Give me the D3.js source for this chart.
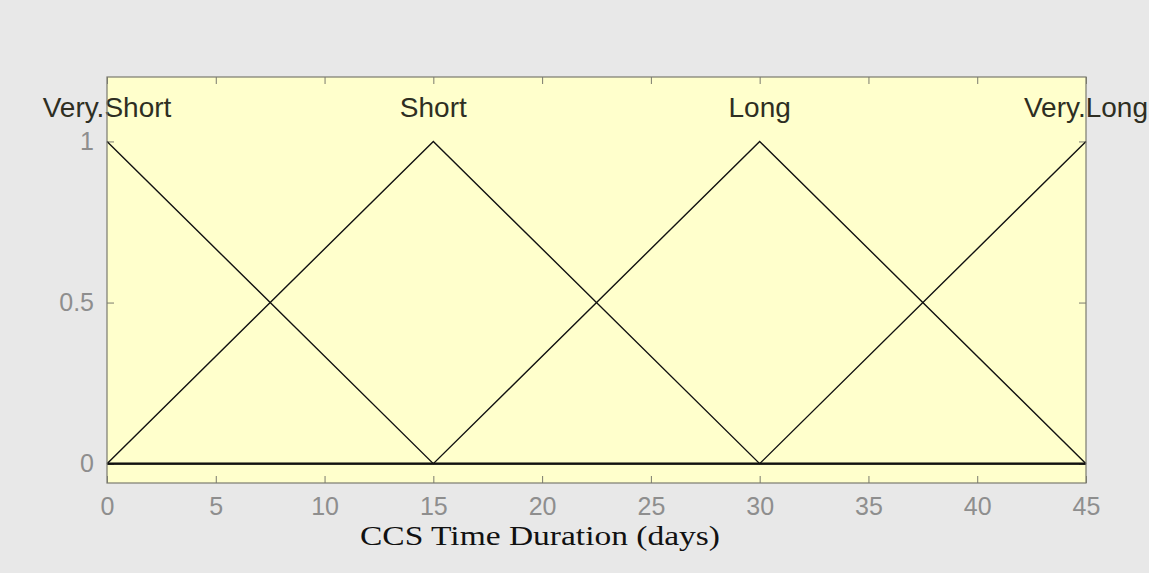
<!DOCTYPE html>
<html>
<head>
<meta charset="utf-8">
<script src="https://cdn.jsdelivr.net/npm/d3@7"></script>
<style>
  body { margin: 0; background: #e8e8e8; }
  svg { display: block; }
</style>
</head>
<body>
<svg width="1149" height="573"></svg>
<script>
// membership functions of "CCS Time Duration"
var mfNames = ["Very.Short", "Short", "Long", "Very.Long"];
var mfPeaks = [0, 15, 30, 45];
var mfX = [[0, 15, 45], [0, 15, 30, 45], [0, 15, 30, 45], [0, 30, 45]];
var mfY = [[1, 0, 0], [0, 1, 0, 0], [0, 0, 1, 0], [0, 0, 1]];
var xTicks = [0, 5, 10, 15, 20, 25, 30, 35, 40, 45];
var yTicks = [0, 0.5, 1];
var xLabel = "CCS Time Duration (days)";

var svg = d3.select("svg"),
  margin = {top: 77, right: 63, bottom: 90, left: 107},
  width = +svg.attr("width") - margin.left - margin.right,
  height = +svg.attr("height") - margin.top - margin.bottom,
  g = svg.append("g").attr("transform", "translate(" + margin.left + "," + margin.top + ")");

var x = d3.scaleLinear().domain([0, 45]).range([0, width]);
var y = d3.scaleLinear().domain([-0.06, 1.2]).range([height, 0]);

svg.insert("rect", ":first-child")
  .attr("width", 1149).attr("height", 573).attr("fill", "#e8e8e8");

g.append("rect")
  .attr("width", width).attr("height", height)
  .attr("fill", "#ffffcc");

var axisColor = "#7a7a6e", tickColor = "#8e8e8e";

function styleAxis(sel) {
  sel.select(".domain").remove();
  sel.selectAll(".tick line").attr("stroke", axisColor);
  sel.selectAll(".tick text")
    .attr("fill", tickColor)
    .style("font-family", "Arial, 'Liberation Sans', sans-serif")
    .style("font-size", "25px");
}

g.append("g")
  .attr("transform", "translate(0," + height + ")")
  .call(d3.axisBottom(x).tickValues(xTicks).tickSize(-7).tickPadding(14).tickFormat(d3.format("d")))
  .call(styleAxis);
g.append("g")
  .call(d3.axisTop(x).tickValues(xTicks).tickSize(-7).tickFormat(""))
  .call(styleAxis);
g.append("g")
  .call(d3.axisLeft(y).tickValues(yTicks).tickSize(-7).tickPadding(13).tickFormat(d3.format("")))
  .call(styleAxis);
g.append("g")
  .attr("transform", "translate(" + width + ",0)")
  .call(d3.axisRight(y).tickValues(yTicks).tickSize(-7).tickFormat(""))
  .call(styleAxis);

var line = d3.line()
  .x(function(d) { return x(d[0]); })
  .y(function(d) { return y(d[1]); });

// zero baseline is drawn heavier
g.append("path")
  .datum([[0, 0], [45, 0]])
  .attr("d", line)
  .attr("fill", "none")
  .attr("stroke", "#000")
  .attr("stroke-width", 2.4);

mfNames.forEach(function(name, i) {
  var pts = mfX[i].map(function(v, j) { return [v, mfY[i][j]]; });
  g.append("path")
    .datum(pts)
    .attr("d", line)
    .attr("fill", "none")
    .attr("stroke", "#111")
    .attr("stroke-width", 1.4);
  g.append("text")
    .attr("x", x(mfPeaks[i]))
    .attr("y", 117 - margin.top)
    .attr("text-anchor", "middle")
    .attr("fill", "#2e2e22")
    .style("font-family", "Arial, 'Liberation Sans', sans-serif")
    .style("font-size", "28px")
    .text(name);
});

g.append("rect")
  .attr("width", width).attr("height", height)
  .attr("fill", "none")
  .attr("stroke", axisColor)
  .attr("stroke-width", 1.2);

svg.append("text")
  .attr("x", 540)
  .attr("y", 545)
  .attr("text-anchor", "middle")
  .attr("fill", "#111")
  .attr("textLength", 360)
  .attr("lengthAdjust", "spacingAndGlyphs")
  .style("font-family", "'Liberation Serif', 'Times New Roman', serif")
  .style("font-size", "28px")
  .text(xLabel);
</script>
</body>
</html>
